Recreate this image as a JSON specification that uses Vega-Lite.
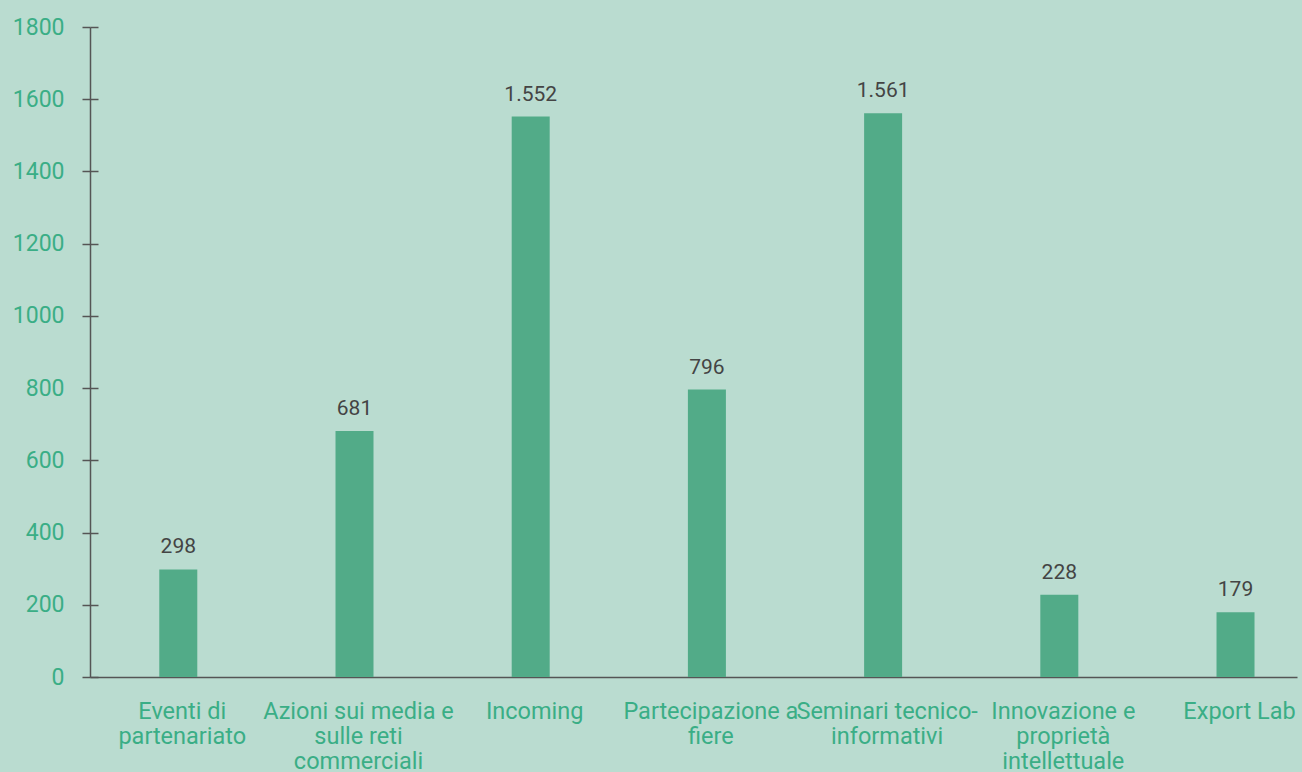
{
  "$schema": "https://vega.github.io/schema/vega-lite/v6.json",
  "autosize": "none",
  "width": 1207,
  "height": 650,
  "padding": {"left": 90, "top": 27, "right": 5, "bottom": 95},
  "background": "#badcd0",
  "config": {
    "view": {"stroke": null},
    "font": "Roboto",
    "locale": {"number": {"decimal": ",", "thousands": ".", "grouping": [3], "currency": ["€", ""]}}
  },
  "data": {
    "values": [
      {"categoria": "Eventi di partenariato", "valore": 298},
      {"categoria": "Azioni sui media e sulle reti commerciali", "valore": 681},
      {"categoria": "Incoming", "valore": 1552},
      {"categoria": "Partecipazione a fiere", "valore": 796},
      {"categoria": "Seminari tecnico-informativi", "valore": 1561},
      {"categoria": "Innovazione e proprietà intellettuale", "valore": 228},
      {"categoria": "Export Lab", "valore": 179}
    ]
  },
  "encoding": {
    "x": {
      "field": "categoria",
      "type": "nominal",
      "sort": null,
      "scale": {"paddingInner": 0.784, "paddingOuter": 0.317, "align": 0.62},
      "axis": {
        "title": null,
        "labelAngle": 0,
        "ticks": false,
        "domainColor": "#555555",
        "domainWidth": 1.5,
        "labelColor": "#3aae86",
        "labelFontSize": 23.5,
        "labelPadding": 22,
        "labelLineHeight": 25,
        "labelBaseline": "top",
        "labelLimit": 300,
        "labelOverlap": false,
        "labelOffset": 4,
        "labelExpr": "{'Eventi di partenariato': ['Eventi di', 'partenariato'], 'Azioni sui media e sulle reti commerciali': ['Azioni sui media e', 'sulle reti', 'commerciali'], 'Partecipazione a fiere': ['Partecipazione a', 'fiere'], 'Seminari tecnico-informativi': ['Seminari tecnico-', 'informativi'], 'Innovazione e proprietà intellettuale': ['Innovazione e', 'proprietà', 'intellettuale']}[datum.value] || datum.value"
      }
    },
    "y": {
      "field": "valore",
      "type": "quantitative",
      "scale": {"domain": [0, 1800], "nice": false}
    }
  },
  "layer": [
    {
      "mark": {"type": "bar", "color": "#52ab88", "size": 38},
      "encoding": {
        "y": {
          "field": "valore",
          "type": "quantitative",
          "axis": {
            "title": null,
            "orient": "left",
            "values": [0, 200, 400, 600, 800, 1000, 1200, 1400, 1600, 1800],
            "format": "d",
            "grid": false,
            "domainColor": "#555555",
            "domainWidth": 1.5,
            "tickColor": "#555555",
            "tickWidth": 1.5,
            "tickSize": 8,
            "labelColor": "#3aae86",
            "labelFontSize": 23,
            "labelPadding": 18
          }
        }
      }
    },
    {
      "mark": {"type": "text", "color": "#444444", "fontSize": 21, "baseline": "alphabetic", "dy": -16},
      "encoding": {
        "text": {"field": "valore", "type": "quantitative", "format": ",d"},
        "y": {
          "field": "valore",
          "type": "quantitative",
          "axis": {
            "title": null,
            "orient": "left",
            "offset": -8,
            "values": [0, 200, 400, 600, 800, 1000, 1200, 1400, 1600, 1800],
            "grid": false,
            "domain": false,
            "labels": false,
            "tickColor": "#555555",
            "tickWidth": 1.5,
            "tickSize": 8
          }
        }
      }
    }
  ],
  "resolve": {"axis": {"y": "independent"}}
}
